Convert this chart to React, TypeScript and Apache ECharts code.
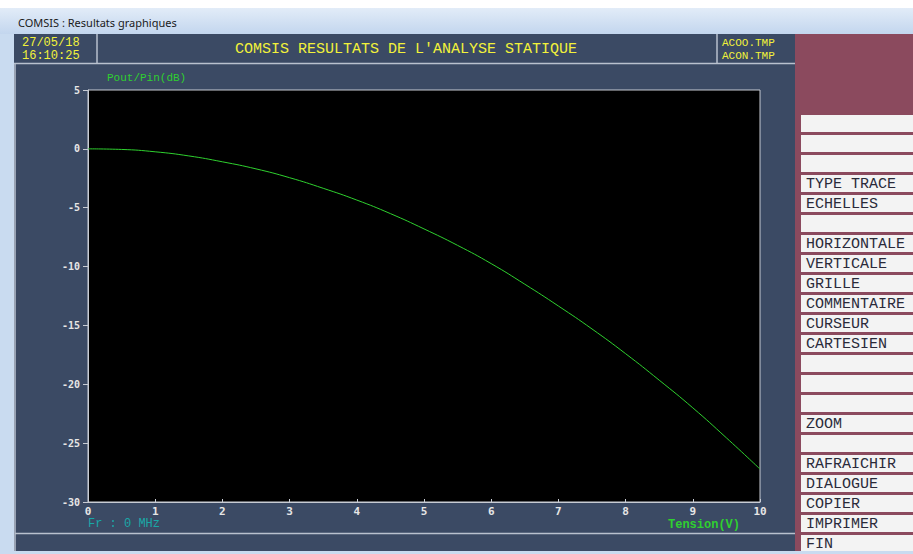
import React, { useEffect, useRef } from "react";
import * as echarts from "echarts";

// Data
const voltage = [0, 0.5, 1, 1.5, 2, 2.5, 3, 3.5, 4, 4.5, 5, 5.5, 6, 6.5, 7, 7.5, 8, 8.5, 9, 9.5, 10];
const gainDb = [0, -0.05, -0.25, -0.6, -1.1, -1.7, -2.45, -3.35, -4.35, -5.5, -6.8, -8.2, -9.75, -11.5, -13.35, -15.3, -17.4, -19.65, -22.0, -24.55, -27.2];
const menuItems = [
  "", "", "", "TYPE TRACE", "ECHELLES", "", "HORIZONTALE", "VERTICALE", "GRILLE",
  "COMMENTAIRE", "CURSEUR", "CARTESIEN", "", "", "", "ZOOM", "", "RAFRAICHIR",
  "DIALOGUE", "COPIER", "IMPRIMER", "FIN",
];
const headerDate = "27/05/18";
const headerTime = "16:10:25";
const headerTitle = "COMSIS RESULTATS DE L'ANALYSE STATIQUE";
const headerFiles = ["ACOO.TMP", "ACON.TMP"];

const SLATE = "#3b4a64";
const MAROON = "#8b4a5e";
const CHROME = "#c9dbf0";
const BORDER = "#b9c1ce";
const YELLOW = "#f2f23a";
const GREEN = "#2fd02f";
const MONO = "'Liberation Mono', 'DejaVu Sans Mono', monospace";

export default function App() {
  const ref = useRef<HTMLDivElement>(null);
  useEffect(() => {
    if (!ref.current) return;
    const chart = echarts.init(ref.current, null, { renderer: "svg", width: 913, height: 554 });

    const graphics: any[] = [
      { type: "rect", shape: { x: 0, y: 0, width: 913, height: 554 }, style: { fill: CHROME } },
      { type: "rect", shape: { x: 0, y: 0, width: 913, height: 8 }, style: { fill: "#ffffff" } },
      {
        type: "rect",
        shape: { x: 0, y: 8, width: 913, height: 26 },
        style: {
          fill: new echarts.graphic.LinearGradient(0, 0, 0, 1, [
            { offset: 0, color: "#e2ecf8" },
            { offset: 1, color: "#c3d6ee" },
          ]),
        },
      },
      {
        type: "text", x: 18, y: 22,
        style: { text: "COMSIS : Resultats graphiques", fill: "#1a1a1a", font: "11px 'Noto Sans', sans-serif", verticalAlign: "middle" },
      },
      { type: "rect", shape: { x: 14, y: 34, width: 781, height: 517 }, style: { fill: SLATE } },
      { type: "rect", shape: { x: 795, y: 34, width: 118, height: 517 }, style: { fill: MAROON } },
      // header borders
      { type: "line", shape: { x1: 97, y1: 34, x2: 97, y2: 63 }, style: { stroke: BORDER, lineWidth: 1.5 } },
      { type: "line", shape: { x1: 717, y1: 34, x2: 717, y2: 63 }, style: { stroke: BORDER, lineWidth: 1.5 } },
      { type: "line", shape: { x1: 14, y1: 63.5, x2: 795, y2: 63.5 }, style: { stroke: BORDER, lineWidth: 1.5 } },
      { type: "line", shape: { x1: 15, y1: 63, x2: 15, y2: 551 }, style: { stroke: BORDER, lineWidth: 1.5 } },
      { type: "line", shape: { x1: 15, y1: 533.5, x2: 795, y2: 533.5 }, style: { stroke: BORDER, lineWidth: 1.5 } },
      // header texts
      { type: "text", x: 22, y: 42.5, style: { text: headerDate, fill: YELLOW, font: `12px ${MONO}`, verticalAlign: "middle" } },
      { type: "text", x: 22, y: 55.5, style: { text: headerTime, fill: YELLOW, font: `12px ${MONO}`, verticalAlign: "middle" } },
      { type: "text", x: 406, y: 49, style: { text: headerTitle, fill: YELLOW, font: `15px ${MONO}`, align: "center", verticalAlign: "middle" } },
      { type: "text", x: 722, y: 43, style: { text: headerFiles[0], fill: YELLOW, font: `11px ${MONO}`, verticalAlign: "middle" } },
      { type: "text", x: 722, y: 55.5, style: { text: headerFiles[1], fill: YELLOW, font: `11px ${MONO}`, verticalAlign: "middle" } },
      // plot background
      { type: "rect", shape: { x: 88, y: 90, width: 672, height: 412 }, style: { fill: "#000000", stroke: "#c8ccd4", lineWidth: 1 } },
      // axis captions
      { type: "text", x: 107, y: 78, style: { text: "Pout/Pin(dB)", fill: GREEN, font: `11px ${MONO}`, verticalAlign: "middle" } },
      { type: "text", x: 88, y: 524, style: { text: "Fr : 0 MHz", fill: "#1aa7a7", font: `12px ${MONO}`, verticalAlign: "middle" } },
      { type: "text", x: 740, y: 525, style: { text: "Tension(V)", fill: GREEN, font: `bold 12px ${MONO}`, align: "right", verticalAlign: "middle" } },
    ];

    menuItems.forEach((label, i) => {
      const top = 115 + 20 * i;
      const h = Math.min(17, 551 - top);
      graphics.push({ type: "rect", shape: { x: 801, y: top, width: 112, height: h }, style: { fill: "#f3f3f3" } });
      if (label) {
        graphics.push({
          type: "text", x: 806, y: top + 9,
          style: { text: label, fill: "#2a2a3a", font: `15px ${MONO}`, verticalAlign: "middle" },
        });
      }
    });
    // bottom chrome strip
    graphics.push({ type: "rect", shape: { x: 0, y: 551, width: 913, height: 3 }, style: { fill: CHROME } });

    chart.setOption({
      animation: false,
      graphic: { elements: graphics },
      grid: { left: 88, top: 90, width: 672, height: 412, show: false },
      xAxis: {
        type: "value", min: 0, max: 10, interval: 1, z: 10,
        axisLine: { show: true, onZero: false, lineStyle: { color: "#c8ccd4", width: 1 } },
        axisTick: { show: true, inside: true, length: 3, lineStyle: { color: "#c8ccd4" } },
        axisLabel: { color: "#e6e6e6", fontFamily: "'DejaVu Sans Mono', monospace", fontWeight: "bold", fontSize: 11, margin: 4 },
        splitLine: { show: false },
      },
      yAxis: {
        type: "value", min: -30, max: 5, interval: 5, z: 10,
        axisLine: { show: true, onZero: false, lineStyle: { color: "#c8ccd4", width: 1 } },
        axisTick: { show: true, inside: false, length: 5, lineStyle: { color: "#c8ccd4" } },
        axisLabel: { color: "#e6e6e6", fontFamily: "'DejaVu Sans Mono', monospace", fontWeight: "bold", fontSize: 10, margin: 8 },
        splitLine: { show: false },
      },
      series: [
        {
          type: "line", z: 11,
          data: voltage.map((v, i) => [v, gainDb[i]]),
          smooth: true, showSymbol: false,
          lineStyle: { color: GREEN, width: 1 },
        },
      ],
    });
    return () => chart.dispose();
  }, []);
  return <div ref={ref} style={{ position: "absolute", left: 0, top: 0, width: 913, height: 554 }} />;
}
